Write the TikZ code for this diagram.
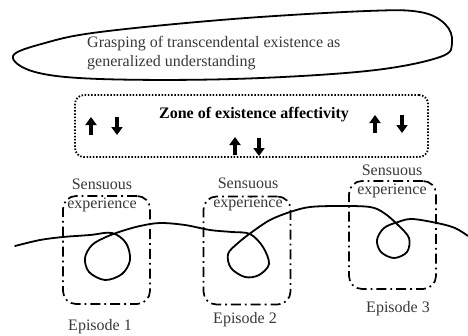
\documentclass[tikz,border=0pt]{standalone}
\usepackage{fontspec}
\setmainfont{Liberation Serif}
\usetikzlibrary{arrows.meta}
\definecolor{inkgray}{gray}{0.22}
\tikzset{
  txt/.style={font=\fontsize{16}{19}\selectfont, text=inkgray, inner sep=0pt},
  boldtxt/.style={font=\fontsize{16}{19}\selectfont\bfseries, inner sep=0pt},
  zonebox/.style={draw, line width=1.8pt, dash pattern=on 1.5pt off 1.7pt,
    rounded corners=9pt, minimum width=353pt, minimum height=62pt, inner sep=0pt},
  episodebox/.style={draw, line width=1.7pt, dash pattern=on 10pt off 4pt on 1.8pt off 4pt,
    rounded corners=13pt, minimum width=87pt, minimum height=108pt, inner sep=0pt},
  blockarrow/.style={line width=4.6pt, -{Triangle[length=8pt,width=11pt]}},
  thread/.style={line width=1.8pt, line cap=round, line join=round},
}
\begin{document}
\begin{tikzpicture}[x=1pt,y=-1pt]
\useasboundingbox (0,0) rectangle (468,335);

% outer loop around the generalized understanding
\draw[line width=1.8pt] plot[smooth cycle, tension=0.6] coordinates {
  (13,56) (45,43) (100,32) (233,19) (367,11) (420,12) (445,24) (452,42)
  (440,57) (367,71) (233,79) (100,79) (35,72)};
\node[txt, anchor=west, align=left] (grasp) at (87,53)
  {Grasping of transcendental existence as\\generalized understanding};

% zone of existence affectivity
\node[zonebox] (zone) at (251.5,126) {};
\node[boldtxt] (zonelabel) at (254,115) {Zone of existence affectivity};

\coordinate (la1) at (91,135);  \coordinate (la2) at (91,117);
\coordinate (lb1) at (117,117); \coordinate (lb2) at (117,135);
\coordinate (ra1) at (375,133); \coordinate (ra2) at (375,115);
\coordinate (rb1) at (402,115); \coordinate (rb2) at (402,133);
\coordinate (ma1) at (235,155); \coordinate (ma2) at (235,137);
\coordinate (mb1) at (259,138); \coordinate (mb2) at (259,156);
\draw[blockarrow] (la1) -- (la2);
\draw[blockarrow] (lb1) -- (lb2);
\draw[blockarrow] (ra1) -- (ra2);
\draw[blockarrow] (rb1) -- (rb2);
\draw[blockarrow] (ma1) -- (ma2);
\draw[blockarrow] (mb1) -- (mb2);

% episodes
\node[episodebox] (ep1) at (106.5,250) {};
\node[episodebox] (ep2) at (247,250.5) {};
\node[episodebox] (ep3) at (392.5,235) {};

\node[txt, align=center] (se1) at (102,195) {Sensuous\\experience};
\node[txt, align=center] (se2) at (248,194) {Sensuous\\experience};
\node[txt, align=center] (se3) at (392,181) {Sensuous\\experience};

\node[txt] (lab1) at (100,327) {Episode 1};
\node[txt] (lab2) at (245,320) {Episode 2};
\node[txt] (lab3) at (398,309) {Episode 3};

% the thread of lived experience with its loops
\draw[thread] plot[smooth, tension=0.55] coordinates {
  (15,246) (40,240) (63,237) (90,235) (112,233) (126,243)
  (130,260) (122,274) (105,280) (89,272) (85,258) (92,245) (106,237)
  (122,231) (140,226) (160,223) (185,225) (210,230) (232,232) (250,234)
  (263,247) (269,264) (259,275) (245,277) (231,268) (228,254) (238,243)
  (252,232) (270,220) (290,212) (310,207) (340,206) (370,207) (384,213)
  (398,225) (409,238) (407,252) (394,258) (381,252) (377,240) (384,228)
  (398,222) (412,219) (437,223) (455,228) (468,236)};
\end{tikzpicture}
\end{document}
